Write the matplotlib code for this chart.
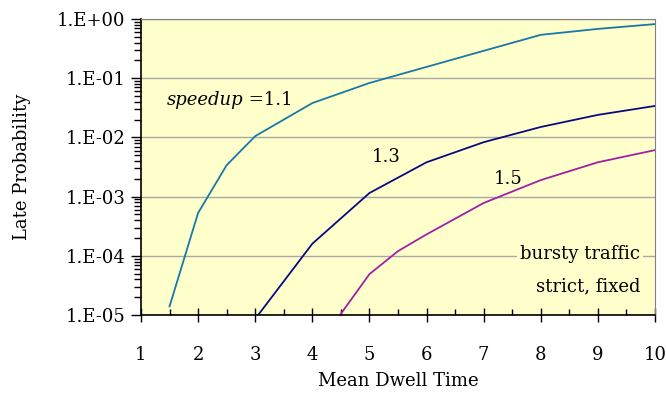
import math
import matplotlib
matplotlib.use("Agg")
import matplotlib.pyplot as plt
from matplotlib.ticker import FuncFormatter, MultipleLocator, LogLocator, NullFormatter

plt.rcParams['font.family'] = ['DejaVu Serif']

# speedup = 1.1
x11 = [1.5, 2, 2.5, 3, 4, 5, 6, 7, 8, 9, 10]
y11 = [1.4e-5, 5.3e-4, 3.4e-3, 1.05e-2, 3.8e-2, 8.3e-2, 0.155, 0.29, 0.54, 0.68, 0.82]
# speedup = 1.3
x13 = [3, 4, 5, 6, 7, 8, 9, 10]
y13 = [8.6e-6, 1.6e-4, 1.15e-3, 3.8e-3, 8.3e-3, 1.5e-2, 2.4e-2, 3.4e-2]
# speedup = 1.5
x15 = [4.5, 5, 5.5, 6, 7, 8, 9, 10]
y15 = [1.05e-5, 4.9e-5, 1.2e-4, 2.3e-4, 7.8e-4, 1.9e-3, 3.8e-3, 6.1e-3]

fig = plt.figure(figsize=(6.66, 3.94), dpi=100)
ax = fig.add_axes([0.2117, 0.2005, 0.9835 - 0.2117, 0.9518 - 0.2005])
ax.set_facecolor('#ffffcc')

ax.plot(x11, y11, color='#1a78a8', lw=1.3)
ax.plot(x13, y13, color='#0a0a80', lw=1.3)
ax.plot(x15, y15, color='#a020a8', lw=1.3)

ax.set_yscale('log')
ax.set_xlim(1, 10)
ax.set_ylim(1e-5, 1)

ax.yaxis.set_major_locator(LogLocator(base=10, numticks=10))
ax.yaxis.set_minor_locator(LogLocator(base=10, subs=range(2, 10), numticks=20))
ax.yaxis.set_minor_formatter(NullFormatter())
ax.yaxis.set_major_formatter(FuncFormatter(
    lambda v, p: "1.E%+03d" % round(math.log10(v))))
ax.xaxis.set_major_locator(MultipleLocator(1))
ax.xaxis.set_minor_locator(MultipleLocator(0.5))

ax.grid(True, which='major', axis='y', color='#a8a8a8', lw=1)
ax.set_axisbelow(True)

ax.tick_params(axis='y', which='major', direction='out', length=7, width=1, labelsize=13, pad=4)
ax.tick_params(axis='y', which='minor', direction='out', length=5, width=1)
ax.tick_params(axis='x', which='major', direction='inout', length=10, width=1, labelsize=13, pad=17)
ax.tick_params(axis='x', which='minor', direction='in', length=4.5, width=1)

for s in ['top', 'right']:
    ax.spines[s].set_color('#808080')
for s in ['left', 'bottom']:
    ax.spines[s].set_color('black')
    ax.spines[s].set_linewidth(1.2)

ax.set_xlabel('Mean Dwell Time', fontsize=13, labelpad=6)
ax.set_ylabel('Late Probability', fontsize=13, labelpad=19)

t = ax.text(1.45, 4.3e-2, 'speedup', fontsize=13, style='italic', va='center', ha='left')
ax.annotate(' =1.1', xy=(1, 0.5), xycoords=t, fontsize=13, va='center', ha='left')
ax.text(5.29, 4.7e-3, '1.3', fontsize=13, va='center', ha='center')
ax.text(7.43, 2.0e-3, '1.5', fontsize=13, va='center', ha='center')
ax.text(9.74, 1.07e-4, 'bursty traffic', fontsize=13, va='center', ha='right',
        bbox=dict(facecolor='#ffffcc', edgecolor='none', pad=2))
ax.text(9.74, 3.0e-5, 'strict, fixed', fontsize=13, va='center', ha='right')

fig.savefig('out.png', dpi=100)
